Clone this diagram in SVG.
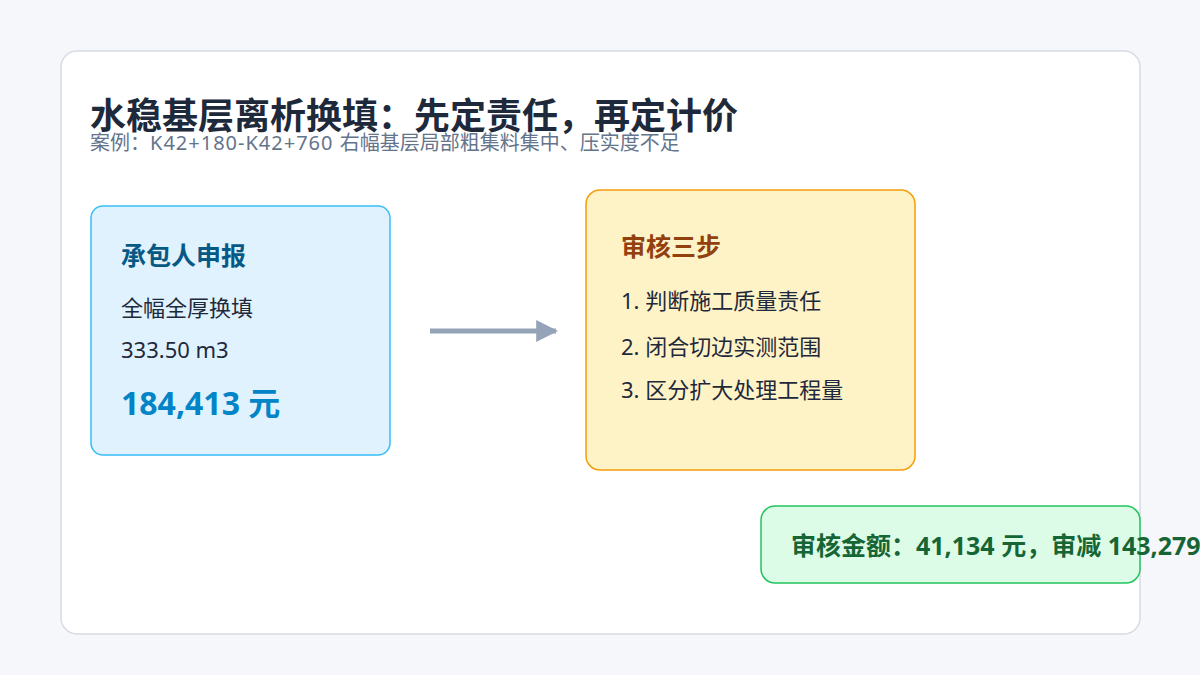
<svg xmlns="http://www.w3.org/2000/svg" width="1200" height="675" viewBox="0 0 1200 675">
<style>
text{font-family:"Noto Sans","Noto Sans CJK SC",sans-serif;}
.b{font-weight:700;}
.body{font-size:22px;fill:#1e293b;}
.box{stroke-width:1.5;}
</style>
<defs>
<marker id="ah" viewBox="0 0 10 10" refX="9" refY="5" markerWidth="4.4" markerHeight="4.4" markerUnits="strokeWidth" orient="auto">
<path d="M0,0 L10,5 L0,10 Z" fill="#94a3b8"/>
</marker>
</defs>
<rect width="1200" height="675" fill="#f5f7fb"/>
<rect x="61" y="51" width="1079" height="583" rx="16" fill="#ffffff" stroke="#d5dce5" stroke-width="1.5"/>
<g id="title">
<text x="90" y="129" class="b" font-size="36" fill="#1e293b">水稳基层离析换填：先定责任，再定计价</text>
<text x="90" y="150" font-size="20" fill="#64748b">案例：<tspan letter-spacing="1">K42+180-K42+760 </tspan>右幅基层局部粗集料集中、压实度不足</text>
</g>
<g id="connectors">
<line x1="430" y1="331" x2="556" y2="331" stroke="#94a3b8" stroke-width="5" marker-end="url(#ah)"/>
</g>
<g id="node-claim">
<rect x="91" y="206" width="299" height="249" rx="12" fill="#e0f2fe" stroke="#38bdf8" class="box"/>
<text x="121" y="265" class="b" font-size="25" fill="#075985">承包人申报</text>
<text x="121" y="316" class="body">全幅全厚换填</text>
<text x="121" y="358" class="body">333.50 m3</text>
<text x="121" y="415" class="b" font-size="32" fill="#0284c7">184,413 元</text>
</g>
<g id="node-review">
<rect x="586" y="190" width="329" height="280" rx="14" fill="#fef3c7" stroke="#f59e0b" class="box"/>
<text x="621" y="256" class="b" font-size="25" fill="#92400e">审核三步</text>
<text x="621" y="309" class="body">1. 判断施工质量责任</text>
<text x="621" y="355" class="body">2. 闭合切边实测范围</text>
<text x="621" y="398" class="body">3. 区分扩大处理工程量</text>
</g>
<g id="node-result">
<rect x="761" y="506" width="379" height="77" rx="14" fill="#dcfce7" stroke="#22c55e" class="box"/>
<text x="791" y="555" class="b" font-size="25" fill="#166534">审核金额：41,134 元，审减 143,279</text>
</g>
</svg>
